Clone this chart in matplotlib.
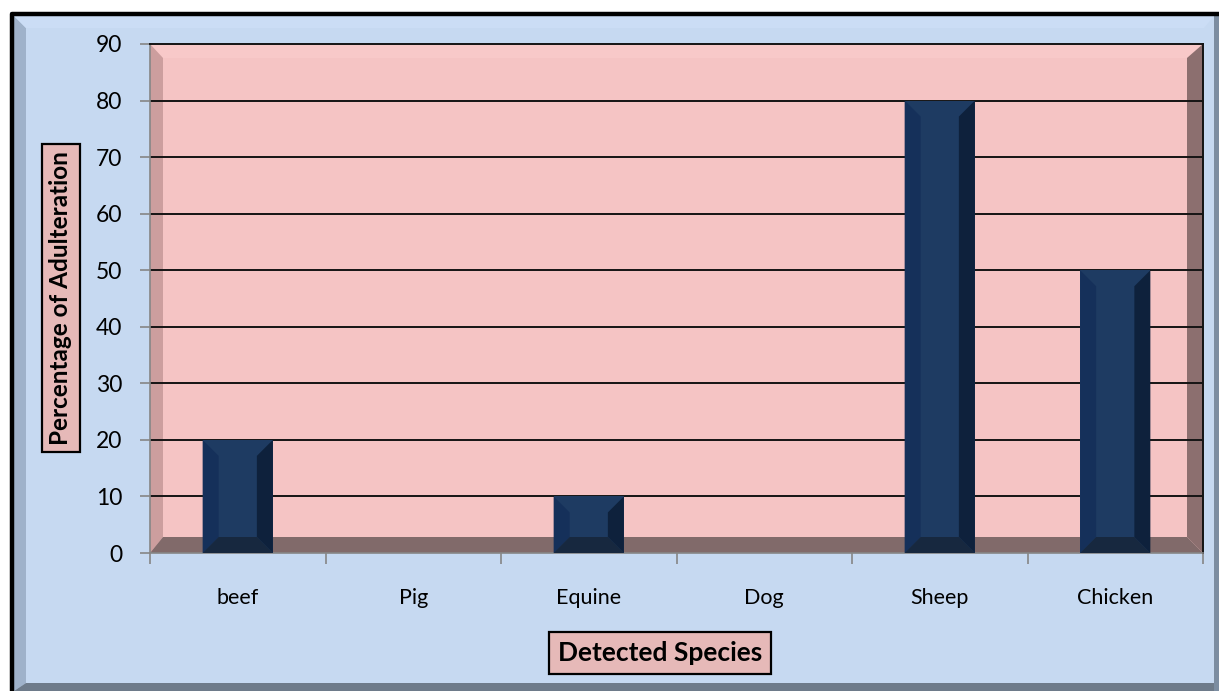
import matplotlib.pyplot as plt
from matplotlib.patches import Polygon, Rectangle

species = ["beef", "Pig", "Equine", "Dog", "Sheep", "Chicken"]
adulteration = [20, 0, 10, 0, 80, 50]
y_ticks = [0, 10, 20, 30, 40, 50, 60, 70, 80, 90]

W, H = 1219, 691
plt.rcParams['font.family'] = ['Lato', 'DejaVu Sans']

fig = plt.figure(figsize=(W / 100, H / 100), dpi=100)
fig.patch.set_facecolor("white")

# outer chart frame, drawn in pixel coordinates
bg = fig.add_axes([0, 0, 1, 1])
bg.set_xlim(0, W)
bg.set_ylim(H, 0)
bg.axis("off")
bg.add_patch(Rectangle((10, 12), W - 10, H - 12, facecolor="#C6D9F1", edgecolor="none"))
bg.add_patch(Polygon([(14, 16), (26, 28), (26, 683), (14, 691)], closed=True,
                     facecolor="#9FB2CA", edgecolor="none"))
bg.add_patch(Polygon([(14, 16), (1214, 16), (1204, 28), (26, 28)], closed=True,
                     facecolor="#CBDDF5", edgecolor="none"))
bg.add_patch(Polygon([(14, 691), (26, 683), (1214, 683), (1219, 691)], closed=True,
                     facecolor="#6E7B8A", edgecolor="none"))
bg.add_patch(Rectangle((1214, 16), 5, 675, facecolor="#7C8DA1", edgecolor="none"))
bg.plot([12, 12, W], [H, 14, 14], color="black", lw=3.2, solid_capstyle="butt")

ax = fig.add_axes([150 / W, 1 - 553 / H, (1203 - 150) / W, (553 - 44) / H])
ax.set_xlim(-0.5, len(species) - 0.5)
ax.set_ylim(0, 90)
ax.set_facecolor("#F5C4C4")

# pixel -> data unit helpers for the bevelled walls and bars
px_x = (len(species)) / (1203 - 150)
px_y = 90 / (553 - 44)
x0, x1 = -0.5, len(species) - 0.5
lw_, rw_ = 13 * px_x, 16 * px_x
tb_, fb_ = 14 * px_y, 16 * px_y

walls = [
    ([(x0, 90), (x1, 90), (x1 - rw_, 90 - tb_), (x0 + lw_, 90 - tb_)], "#F8C9C9"),
    ([(x0, 0), (x0 + lw_, fb_), (x0 + lw_, 90 - tb_), (x0, 90)], "#CC9E9E"),
    ([(x1, 0), (x1 - rw_, fb_), (x1 - rw_, 90 - tb_), (x1, 90)], "#8C6F6F"),
    ([(x0, 0), (x1, 0), (x1 - rw_, fb_), (x0 + lw_, fb_)], "#816A6A"),
]
for pts, col in walls:
    ax.add_patch(Polygon(pts, closed=True, facecolor=col, edgecolor="none", zorder=1))

for v in y_ticks[1:-1]:
    ax.axhline(v, color="#141414", lw=1.4, zorder=2)

# bars with bevelled edges
bw = 0.4
bars = ax.bar(range(len(species)), adulteration, width=bw, color="#1E3B62",
              edgecolor="none", zorder=3)
bev_x = 16 * px_x
for rect, v in zip(bars, adulteration):
    if v <= 0:
        continue
    l = rect.get_x()
    r = l + rect.get_width()
    bev_y = min(16 * px_y, v / 2)
    ax.add_patch(Polygon([(l, 0), (l + bev_x, bev_y), (l + bev_x, v - bev_y), (l, v)],
                         closed=True, facecolor="#15305A", edgecolor="none", zorder=4))
    ax.add_patch(Polygon([(r, 0), (r - bev_x, bev_y), (r - bev_x, v - bev_y), (r, v)],
                         closed=True, facecolor="#0E213C", edgecolor="none", zorder=4))
    ax.add_patch(Polygon([(l, 0), (r, 0), (r - bev_x, bev_y), (l + bev_x, bev_y)],
                         closed=True, facecolor="#17283F", edgecolor="none", zorder=4))

for s in ["top", "right"]:
    ax.spines[s].set_color("#141414")
    ax.spines[s].set_linewidth(1.4)
for s in ["left", "bottom"]:
    ax.spines[s].set_color("#868686")
    ax.spines[s].set_linewidth(1.2)
ax.spines["top"].set_zorder(5)

ax.set_yticks(y_ticks)
ax.tick_params(axis="y", length=7, width=1.2, color="#868686", pad=13, labelsize=16.5)
ax.set_xticks(range(len(species)))
ax.set_xticklabels(species)
ax.set_xticks([i - 0.5 for i in range(len(species) + 1)], minor=True)
ax.tick_params(axis="x", which="major", length=0, pad=25, labelsize=15.5)
ax.tick_params(axis="x", which="minor", length=8, width=1.2, color="#868686")

fig.text(61 / W, 1 - 298 / H, "Percentage of Adulteration", rotation=90, ha="center",
         va="center", fontsize=17.5, fontweight="bold",
         bbox=dict(boxstyle="square,pad=0.3", facecolor="#E6B9B8", edgecolor="black",
                   linewidth=1.6))
fig.text(660 / W, 1 - 653 / H, "Detected Species", ha="center", va="center",
         fontsize=19, fontweight="bold",
         bbox=dict(boxstyle="square,pad=0.35", facecolor="#E6B9B8", edgecolor="black",
                   linewidth=1.6))

fig.savefig("out.png", dpi=100)
